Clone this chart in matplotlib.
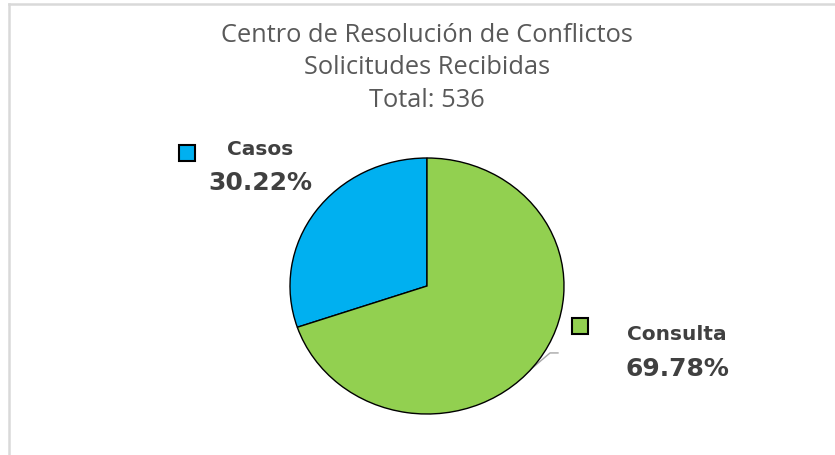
import numpy as np
import matplotlib
matplotlib.use('Agg')
import matplotlib.pyplot as plt
from matplotlib.patches import Rectangle
from matplotlib.lines import Line2D

# data
categories = ['Casos', 'Consulta']
values = [162, 374]
colors = ['#00B0F0', '#92D050']
title_lines = ['Centro de Resolución de Conflictos', 'Solicitudes Recibidas', 'Total: 536']

W, H = 835, 455
fig = plt.figure(figsize=(W / 100, H / 100), dpi=100)
fig.patch.set_facecolor('white')


def fx(px):
    return px / W


def fy(py):
    return 1 - py / H


# light frame of the chart area (top and left edges visible)
fig.add_artist(Line2D([fx(8.5), fx(8.5)], [fy(3.5), 0], color='#d9d9d9', lw=1.8))
fig.add_artist(Line2D([fx(8.5), 1], [fy(3.5), fy(3.5)], color='#d9d9d9', lw=1.8))

# title
baselines = [42, 74, 107]
for line, yb in zip(title_lines, baselines):
    fig.text(fx(427), fy(yb), line, ha='center', va='baseline', fontsize=18.3,
             family='Open Sans', color='#595959')

# pie (slightly stretched horizontally like the reference)
cx, cy, rx, ry = 427, 286, 137, 128
ax = fig.add_axes([fx(cx - rx), fy(cy + ry), 2 * rx / W, 2 * ry / H])
total = sum(values)
ax.pie(values, colors=colors, startangle=90, counterclock=True,
       wedgeprops=dict(edgecolor='black', linewidth=1.0))
ax.set_aspect('auto')
ax.set_xlim(-1, 1)
ax.set_ylim(-1, 1)
ax.axis('off')

# leader line for the Consulta label
ax.add_line(Line2D([0.752, 0.898, 0.956], [-0.656, -0.523, -0.523],
                   color='#a6a6a6', lw=1.0, zorder=0, clip_on=False))

# data labels with legend keys
label_pos = [(260, 155, 190, 187, 153), (677, 340, 376, 580, 326)]
for cat, val, col, (lx, yname, yval, kx, ky) in zip(categories, values, colors, label_pos):
    pct = 100 * val / total
    fig.text(fx(lx), fy(yname), cat, ha='center', va='baseline', fontsize=14.5,
             family='DejaVu Sans', weight='bold', color='#404040')
    fig.text(fx(lx), fy(yval), f'{pct:.2f}%', ha='center', va='baseline', fontsize=18,
             family='DejaVu Sans', weight='bold', color='#404040')
    s = 16
    fig.add_artist(Rectangle((fx(kx - s / 2), fy(ky + s / 2)), s / W, s / H,
                             facecolor=col, edgecolor='black', lw=1.5))

fig.savefig('out.png', dpi=100, facecolor='white')
